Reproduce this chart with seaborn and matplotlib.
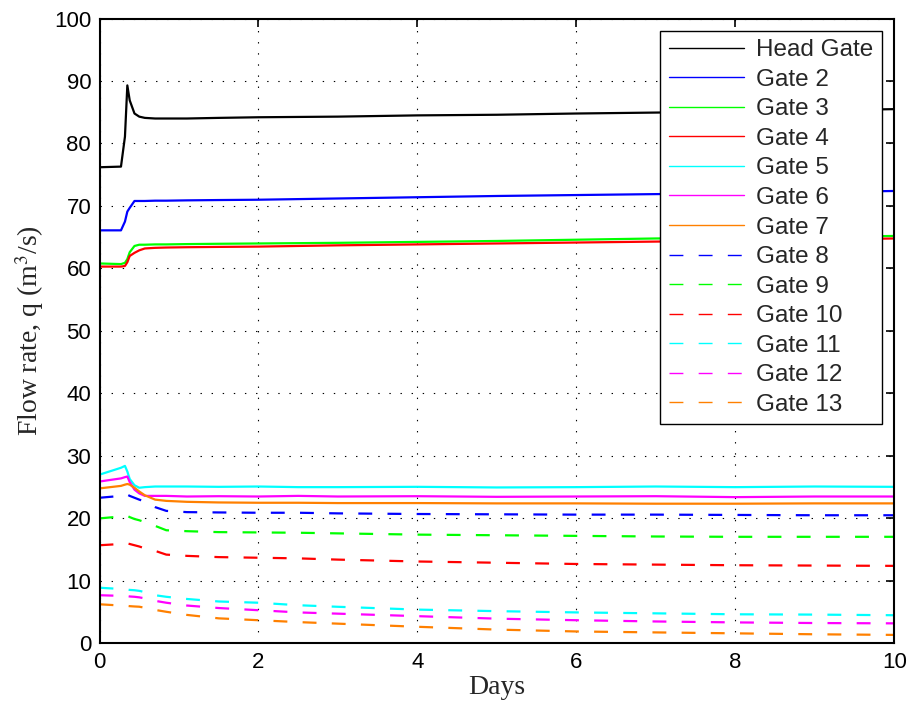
import numpy as np
import pandas as pd
import matplotlib
matplotlib.use("Agg")
import matplotlib.pyplot as plt
import seaborn as sns

# time grid (days) shared by all gates
days = [0, 0.27, 0.32, 0.35, 0.38, 0.44, 0.5, 0.57, 0.7, 0.84, 1.1, 1.5,
        2, 2.5, 3, 4, 5, 6, 7, 8, 9, 10]

head_gate = [76.2, 76.3, 81.1, 89.3, 86.9, 84.8, 84.3, 84.1, 84.0, 84.0, 84.0, 84.1,
             84.2, 84.25, 84.3, 84.5, 84.6, 84.8, 84.95, 85.1, 85.3, 85.5]
gate_2 = [66.1, 66.1, 67.5, 69.1, 69.7, 70.8, 70.8, 70.8, 70.85, 70.85, 70.9, 70.95,
          71.0, 71.1, 71.2, 71.4, 71.6, 71.75, 71.9, 72.0, 72.2, 72.4]
gate_3 = [60.8, 60.7, 60.9, 61.5, 62.6, 63.6, 63.8, 63.8, 63.85, 63.85, 63.9, 63.95,
          64.0, 64.05, 64.1, 64.25, 64.4, 64.6, 64.8, 64.9, 65.05, 65.2]
gate_4 = [60.3, 60.3, 60.4, 61.0, 62.0, 62.5, 62.9, 63.2, 63.3, 63.35, 63.4, 63.45,
          63.5, 63.6, 63.7, 63.85, 64.0, 64.15, 64.3, 64.45, 64.6, 64.8]
gate_5 = [27.0, 28.1, 28.4, 27.5, 26.3, 25.3, 24.9, 25.0, 25.1, 25.1, 25.1, 25.05,
          25.1, 25.0, 25.0, 25.05, 24.95, 25.0, 25.1, 25.0, 25.1, 25.05]
gate_6 = [25.9, 26.4, 26.6, 26.7, 25.8, 24.6, 24.0, 23.6, 23.6, 23.6, 23.5, 23.55,
          23.5, 23.6, 23.5, 23.55, 23.45, 23.5, 23.55, 23.4, 23.5, 23.5]
gate_7 = [24.8, 25.2, 25.4, 25.5, 25.4, 24.9, 24.3, 23.7, 23.0, 22.8, 22.65, 22.55,
          22.5, 22.5, 22.45, 22.45, 22.4, 22.4, 22.35, 22.35, 22.4, 22.4]
gate_8 = [23.3, 23.6, 23.8, 23.8, 23.6, 23.3, 23.0, 22.7, 21.8, 21.2, 21.0, 20.95,
          20.9, 20.9, 20.8, 20.7, 20.65, 20.6, 20.6, 20.55, 20.5, 20.5]
gate_9 = [20.0, 20.3, 20.4, 20.4, 20.2, 19.9, 19.7, 19.4, 18.8, 18.1, 17.95, 17.8,
          17.75, 17.7, 17.6, 17.4, 17.3, 17.2, 17.1, 17.05, 17.05, 17.05]
gate_10 = [15.7, 15.9, 16.0, 16.0, 15.9, 15.7, 15.5, 15.2, 14.8, 14.2, 14.0, 13.8,
           13.7, 13.6, 13.4, 13.1, 12.9, 12.7, 12.6, 12.5, 12.45, 12.4]
gate_11 = [8.9, 8.7, 8.65, 8.6, 8.55, 8.5, 8.4, 8.2, 7.7, 7.45, 7.1, 6.7,
           6.5, 6.1, 5.85, 5.4, 5.15, 4.95, 4.8, 4.65, 4.6, 4.5]
gate_12 = [7.7, 7.6, 7.58, 7.57, 7.5, 7.45, 7.36, 7.2, 6.8, 6.5, 6.05, 5.65,
           5.3, 4.95, 4.75, 4.35, 3.95, 3.7, 3.5, 3.35, 3.25, 3.2]
gate_13 = [6.25, 6.05, 6.0, 6.0, 5.95, 5.9, 5.86, 5.7, 5.35, 5.05, 4.55, 4.0,
           3.7, 3.4, 3.15, 2.65, 2.2, 1.9, 1.75, 1.6, 1.45, 1.35]

labels = ["Head Gate"] + [f"Gate {i}" for i in range(2, 14)]
series = [head_gate, gate_2, gate_3, gate_4, gate_5, gate_6, gate_7,
          gate_8, gate_9, gate_10, gate_11, gate_12, gate_13]

base_colors = ["#0000ff", "#00ff00", "#ff0000", "#00ffff", "#ff00ff", "#ff8000"]
colors = ["#000000"] + base_colors + base_colors
solid = [True] * 7 + [False] * 6

sns.set_style("white")
plt.rcParams["font.family"] = ["Liberation Sans", "DejaVu Sans"]
plt.rcParams["mathtext.fontset"] = "stix"
plt.rcParams["lines.scale_dashes"] = False

fig = plt.figure(figsize=(9.13, 7.13), dpi=100)
ax = fig.add_axes([0.109, 0.0977, 0.8705, 0.8763])

dash = (0, (10, 11))
for lab, vals, col, is_solid in zip(labels, series, colors, solid):
    df = pd.DataFrame({"day": days, "q": vals})
    sns.lineplot(data=df, x="day", y="q", ax=ax, color=col, linewidth=1.6,
                 linestyle="-" if is_solid else dash, label=lab)

ax.set_xlim(0, 10)
ax.set_ylim(0, 100)
ax.set_xticks(np.arange(0, 11, 2))
ax.set_yticks(np.arange(0, 101, 10))
ax.grid(True, color="black", linestyle=(0, (1, 7)), linewidth=0.8)
ax.tick_params(direction="in", length=6, width=1.2, labelsize=16, colors="black",
               top=True, right=True, pad=6)
for s in ax.spines.values():
    s.set_visible(True)
    s.set_color("black")
    s.set_linewidth(1.5)

ax.set_xlabel("Days", family="Liberation Serif", fontsize=20, labelpad=2)
ax.set_ylabel(r"Flow rate, q (m$^{\mathrm{3}}$/s)", family="Liberation Serif",
              fontsize=20, labelpad=6)

leg = ax.legend(loc="upper right", fontsize=17.5, frameon=True, fancybox=False,
                edgecolor="black", framealpha=1, handlelength=3.1,
                labelspacing=0.31, borderaxespad=0.5, handletextpad=0.5,
                borderpad=0.35)
leg.get_frame().set_linewidth(1.0)
for h in leg.get_lines():
    h.set_linewidth(1.0)

fig.savefig("out.png", dpi=100)
